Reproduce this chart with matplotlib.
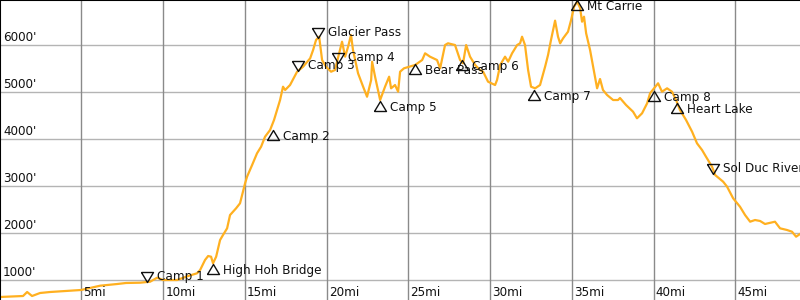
import matplotlib
matplotlib.use("Agg")
import matplotlib.pyplot as plt

# Elevation profile (miles, feet)
miles = [0.02, 1.43, 1.68, 1.98, 2.47, 3.08, 4.0, 4.98, 6.14, 7.18, 7.73, 8.59, 9.2, 9.63, 9.99,
         10.85, 11.52, 12.07, 12.26, 12.56, 12.75, 12.93, 13.05, 13.24, 13.48, 13.66, 13.91, 14.09,
         14.46, 14.7, 15.01, 15.13, 15.44, 15.74, 15.99, 16.23, 16.54, 16.78, 17.15, 17.33, 17.46,
         17.76, 18.19, 18.56, 18.99, 19.17, 19.35, 19.54, 19.72, 19.96, 20.27, 20.51, 20.76, 20.94,
         21.13, 21.31, 21.49, 21.61, 21.92, 22.23, 22.47, 22.72, 22.78, 22.96, 23.27, 23.57, 23.82,
         23.94, 24.18, 24.37, 24.49, 24.73, 25.41, 25.84, 26.02, 26.32, 26.75, 26.94, 27.24, 27.42,
         27.85, 28.16, 28.34, 28.53, 28.77, 29.08, 29.38, 29.57, 29.87, 30.3, 30.42, 30.61, 30.91,
         31.1, 31.34, 31.65, 31.83, 31.95, 32.13, 32.32, 32.5, 32.75, 33.05, 33.36, 33.54, 33.72,
         33.85, 33.97, 34.15, 34.28, 34.46, 34.76, 34.95, 35.13, 35.32, 35.5, 35.62, 35.74, 35.87,
         36.11, 36.3, 36.54, 36.72, 36.9, 37.15, 37.52, 37.82, 37.94, 38.31, 38.74, 38.98, 39.29,
         39.6, 39.78, 40.27, 40.51, 40.82, 41.12, 41.37, 41.61, 41.98, 42.35, 42.65, 42.96, 43.2,
         43.57, 43.76, 44.25, 44.49, 44.86, 45.28, 45.59, 45.9, 46.2, 46.51, 46.81, 47.42, 47.73,
         48.16, 48.46, 48.71, 48.95]
elevation = [645, 666, 751, 666, 730, 751, 772, 794, 885, 921, 943, 949, 970, 1055, 1006,
             1006, 1091, 1149, 1219, 1432, 1517, 1502, 1362, 1502, 1857, 1964, 2106, 2389,
             2532, 2638, 3064, 3204, 3453, 3702, 3843, 4055, 4198, 4411, 4836, 5119, 5049,
             5155, 5438, 5545, 5723, 5900, 6113, 6183, 5687, 5545, 5438, 5475, 5830, 6077,
             5758, 5970, 6219, 5900, 5404, 5119, 4906, 5262, 5651, 5332, 4836, 5119, 5332,
             5085, 5155, 5013, 5438, 5511, 5581, 5687, 5830, 5758, 5687, 5511, 6006, 6043,
             6006, 5687, 5617, 6006, 5758, 5581, 5475, 5438, 5226, 5155, 5262, 5581, 5758,
             5651, 5830, 6006, 6043, 6183, 6006, 5475, 5119, 5085, 5155, 5545, 5794, 6113,
             6326, 6524, 6183, 6043, 6149, 6289, 6538, 6821, 6928, 6794, 6502, 6609, 6255,
             5900, 5545, 5085, 5283, 5049, 4943, 4836, 4836, 4879, 4730, 4587, 4447, 4553,
             4766, 4979, 5192, 5013, 5085, 5013, 4836, 4623, 4411, 4162, 3915, 3772, 3630,
             3417, 3240, 3098, 2992, 2745, 2566, 2389, 2247, 2283, 2262, 2198, 2247, 2106,
             2070, 2034, 1928, 1985]

# Waypoints
wp_names = ["Camp 1", "High Hoh Bridge", "Camp 2", "Camp 3", "Glacier Pass", "Camp 4", "Camp 5",
            "Bear Pass", "Camp 6", "Camp 7", "Mt Carrie", "Camp 8", "Heart Lake", "Sol Duc River"]
wp_miles = [9.0, 13.07, 16.7, 18.27, 19.5, 20.68, 23.28, 25.4, 28.3, 32.7, 35.3, 40.0, 41.4, 43.65]
wp_elev = [964, 1347, 4198, 5460, 6155, 5623, 4815, 5596, 5687, 5049, 6960, 5034, 4766, 3262]
wp_kind = ["down", "up", "up", "down", "down", "down", "up", "up", "up", "up", "up", "up", "up", "down"]

x_ticks = [5, 10, 15, 20, 25, 30, 35, 40, 45]
x_tick_labels = [f"{v}mi" for v in x_ticks]
y_ticks = [1000, 2000, 3000, 4000, 5000, 6000]
y_tick_labels = [f"{v}'" for v in y_ticks]

FS = 8.64
fig = plt.figure(figsize=(8, 3), dpi=100)
ax = fig.add_axes([0, 0, 1, 1])
ax.set_xlim(0.02, 48.95)
ax.set_ylim(581, 6964)
ax.set_xticks([])
ax.set_yticks([])

for v in y_ticks:
    ax.axhline(v, color="#b4b4b4", lw=1.0, zorder=1)
for v in x_ticks:
    ax.axvline(v, color="#8a8a8a", lw=1.0, zorder=1)

for v, lab in zip(y_ticks, y_tick_labels):
    ax.annotate(lab, xy=(0, v), xycoords=ax.get_yaxis_transform(), xytext=(3, 4),
                textcoords="offset pixels", ha="left", va="baseline", fontsize=FS, color="#111111")
for v, lab in zip(x_ticks, x_tick_labels):
    ax.annotate(lab, xy=(v, 0), xycoords=ax.get_xaxis_transform(), xytext=(2, 4),
                textcoords="offset pixels", ha="left", va="baseline", fontsize=FS, color="#111111")

ax.plot(miles, elevation, color="#FFB020", lw=1.6, zorder=2, solid_joinstyle="round")

# triangle markers with apex at the waypoint
up_tri = [(-6, -10), (6, -10), (0, 0), (-6, -10)]
down_tri = [(-6, 10), (6, 10), (0, 0), (-6, 10)]
msize = 20 * 72 / 100.0  # 20 px span -> points

for name, m, e, k in zip(wp_names, wp_miles, wp_elev, wp_kind):
    if k == "up":
        ax.plot([m], [e], marker=up_tri, markersize=msize, markerfacecolor="none",
                markeredgecolor="#111111", markeredgewidth=1.0, linestyle="none", zorder=3,
                clip_on=False)
        off = (10, -10)
    else:
        ax.plot([m], [e], marker=down_tri, markersize=msize, markerfacecolor="none",
                markeredgecolor="#111111", markeredgewidth=1.0, linestyle="none", zorder=3,
                clip_on=False)
        off = (10, 2)
    ax.annotate(name, xy=(m, e), xytext=off, textcoords="offset pixels", ha="left",
                va="baseline", fontsize=FS, color="#111111", zorder=4, annotation_clip=False)

for side in ["right", "bottom"]:
    ax.spines[side].set_visible(False)
for side in ["top", "left"]:
    ax.spines[side].set_color("black")
    ax.spines[side].set_linewidth(1.5)

fig.savefig("out.png", dpi=100)
